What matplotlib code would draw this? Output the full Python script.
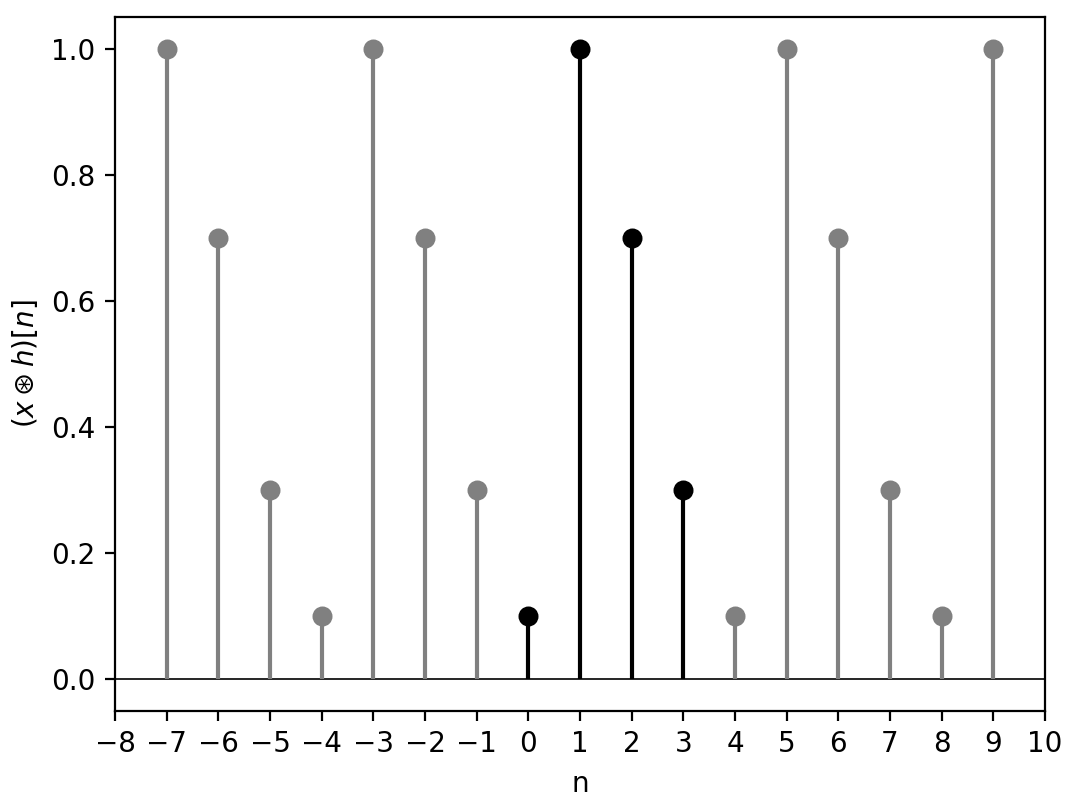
#Circular convolution, periodic extension plot
import matplotlib.pyplot as plt

n_main = [0, 1, 2, 3]
y_main = [0.1, 1.0, 0.7, 0.3]

n_ext = [-7, -6, -5, -4, -3, -2, -1, 4, 5, 6, 7, 8, 9]
y_ext = [1.0, 0.7, 0.3, 0.1, 1.0, 0.7, 0.3, 0.1, 1.0, 0.7, 0.3, 0.1, 1.0]

xticks = list(range(-8, 11))

fig, ax = plt.subplots(figsize=(5.4, 4.055), dpi=200)
fig.subplots_adjust(left=0.1065, right=0.9676, top=0.979, bottom=0.1233)

# periodic copies in gray
ml, sl, bl = ax.stem(n_ext, y_ext, linefmt='gray', markerfmt='o', basefmt=' ')
plt.setp(ml, color='gray', markersize=6.2)
plt.setp(sl, linewidth=1.5)

# one period in black
ml, sl, bl = ax.stem(n_main, y_main, linefmt='k', markerfmt='ko', basefmt=' ')
plt.setp(ml, markersize=6.2)
plt.setp(sl, linewidth=1.5)

ax.axhline(0, color='k', linewidth=0.6, zorder=0)
ax.set_xlim(-8, 10)
ax.set_ylim(-0.05, 1.05)
ax.set_xticks(xticks)
ax.set_xlabel('n')
ax.set_ylabel(r'$(x \circledast h)[n]$')

plt.savefig('out.png')
